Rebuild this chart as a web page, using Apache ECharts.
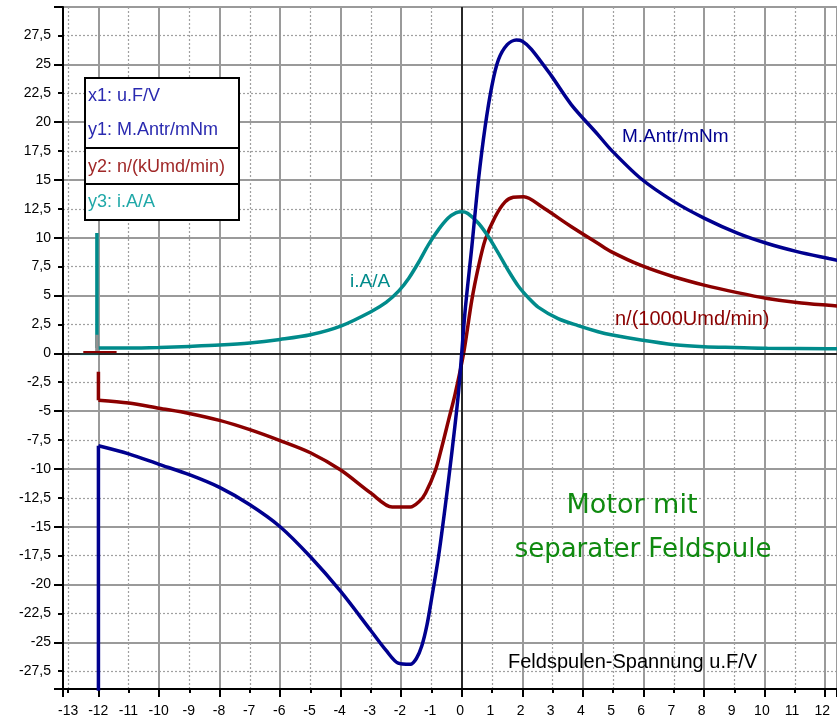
<!DOCTYPE html>
<html><head><meta charset="utf-8">
<script src="https://cdn.jsdelivr.net/npm/echarts@6/dist/echarts.min.js"></script>
<style>html,body{margin:0;padding:0;background:#fff}#c{width:837px;height:721px}</style>
</head><body><div id="c"></div>
<script>
// ---- tick labels ----
const xTickValues = [-13,-12,-11,-10,-9,-8,-7,-6,-5,-4,-3,-2,-1,0,1,2,3,4,5,6,7,8,9,10,11,12];
const yTickValues = [-27.5,-25,-22.5,-20,-17.5,-15,-12.5,-10,-7.5,-5,-2.5,0,2.5,5,7.5,10,12.5,15,17.5,20,22.5,25,27.5];

// ---- series: M.Antr/mNm (torque) ----
const torqueStart = [[-12,-40],[-12,-8.0]];
const torque = [[-12,-8.0],[-11,-8.7],[-10,-9.6],[-9,-10.5],[-8,-11.6],[-7,-13.1],[-6,-15.0],[-5,-17.6],[-4,-20.6],[-3,-24.0],[-2.5,-25.7],[-2.1,-26.8],[-1.7,-26.9],[-1.5,-26.4],[-1.32,-25.3],[-1.15,-23.5],[-0.99,-21.1],[-0.77,-17.6],[-0.55,-13.3],[-0.33,-8.6],[-0.11,-3.4],[0.11,3.7],[0.33,9.2],[0.55,15.0],[0.77,19.6],[0.99,23.1],[1.21,25.4],[1.5,26.7],[1.8,27.1],[2.0,27.0],[2.3,26.3],[2.96,24.0],[3.62,21.5],[4.5,18.9],[4.93,17.6],[5.92,15.1],[7.02,13.1],[8.0,11.7],[9.1,10.4],[10.09,9.5],[11.07,8.8],[12.12,8.2],[12.4,8.05]];

// ---- series: n/(kUmd/min) (speed) ----
const speedStart = [[-12,-1.6],[-12,-4.05]];
const speed = [[-12,-4.05],[-11,-4.3],[-10,-4.75],[-9,-5.2],[-8,-5.8],[-7,-6.6],[-6,-7.55],[-5,-8.6],[-4,-10.1],[-3,-12.1],[-2.3,-13.3],[-1.7,-13.3],[-1.4,-12.8],[-1.2,-12.1],[-0.87,-10.1],[-0.66,-8.1],[-0.44,-5.8],[-0.22,-3.5],[0.06,0.0],[0.33,4.6],[0.55,7.5],[0.77,9.8],[1.1,11.8],[1.43,13.1],[1.7,13.5],[2.05,13.55],[2.63,12.7],[3.62,10.95],[4.5,9.5],[4.93,8.8],[5.92,7.6],[7.02,6.6],[8.0,5.9],[9.1,5.25],[10.09,4.75],[11.07,4.4],[12.12,4.15],[12.4,4.1]];

// ---- series: i.A/A (current) ----
const currentStart = [[-12.05,10.4],[-12.05,0.45]];
const current = [[-12.05,0.45],[-11,0.45],[-10,0.5],[-9,0.6],[-8,0.72],[-7,0.9],[-6,1.2],[-5,1.6],[-4,2.35],[-3,3.6],[-2.5,4.4],[-2.08,5.4],[-1.75,6.5],[-1.42,7.9],[-1.1,9.4],[-0.77,10.7],[-0.45,11.7],[-0.2,12.15],[0,12.25],[0.2,12.1],[0.55,11.25],[0.9,10.0],[1.21,8.65],[1.55,7.1],[1.87,5.8],[2.2,4.8],[2.52,4.0],[3.18,3.0],[3.84,2.4],[4.5,1.87],[4.93,1.6],[5.92,1.15],[7.02,0.75],[8.0,0.57],[9.0,0.5],[10.09,0.43],[12.12,0.4],[12.4,0.4]];

// ---- small start artefacts near (-12, 0) ----
const speedStub = [[-12.5,0.12],[-11.4,0.12]];
const currentStub = [[-12.6,-0.08],[-12.0,-0.08]];
const markerStub = [[-12.05,0.2],[-12.05,1.6]];

const X_MIN = -13.17, X_MAX = 12.39, Y_MIN = -29.04, Y_MAX = 29.96;
const C_BLUE = '#00008f', C_RED = '#8b0000', C_TEAL = '#008b8b';
const LBL_FONT = '"Liberation Sans",Arial,sans-serif';

function xfmt(v){ const t = xTickValues.find(a => Math.abs(a - v) < 1e-6); return t === undefined ? '' : String(t); }
function yfmt(v){ const t = yTickValues.find(a => Math.abs(a - v) < 1e-6); return t === undefined ? '' : String(t).replace('.', ','); }

function lineSeries(name, data, color, width, z, smooth){
  return {type:'line', name, xAxisIndex:0, yAxisIndex:0, data, symbol:'none',
          smooth: smooth ? 0.3 : false,
          lineStyle:{color, width}, z};
}

const gridBox = {left:63, right:-3, top:7, bottom:32};
const chart = echarts.init(document.getElementById('c'), null, {renderer:'canvas'});
const speedSeries = lineSeries('n/(kUmd/min)', speed, C_RED, 3.5, 4, true);
speedSeries.markLine = {silent:true, symbol:['none','none'], label:{show:false},
  lineStyle:{color:'#000', width:1.5, type:'solid'}, data:[{xAxis:0},{yAxis:0}]};
chart.setOption({
  animation:false,
  backgroundColor:'#fff',
  grid:[
    Object.assign({show:true, borderColor:'#000', borderWidth:2, backgroundColor:'#fff'}, gridBox),
    Object.assign({show:false}, gridBox)
  ],
  xAxis:[
    {type:'value', gridIndex:0, min:X_MIN, max:X_MAX, minInterval:2, maxInterval:2,
     axisLine:{show:true, onZero:false, lineStyle:{color:'#000', width:2}},
     axisTick:{show:true, length:8, lineStyle:{color:'#000', width:2}},
     minorTick:{show:true, splitNumber:2, length:4, lineStyle:{color:'#000', width:2}},
     axisLabel:{show:false},
     splitLine:{show:true, lineStyle:{color:'#9a9a9a', width:2}},
     minorSplitLine:{show:true, lineStyle:{color:'#a0a0a0', width:1.2, type:[2,2]}}},
    {type:'value', gridIndex:1, min:X_MIN, max:X_MAX, minInterval:1, maxInterval:1,
     axisLine:{show:false}, axisTick:{show:false}, splitLine:{show:false},
     axisLabel:{show:true, margin:15, fontSize:14, fontFamily:LBL_FONT, color:'#000', formatter:xfmt}}
  ],
  yAxis:[
    {type:'value', gridIndex:0, min:Y_MIN, max:Y_MAX, minInterval:5, maxInterval:5,
     axisLine:{show:true, onZero:false, lineStyle:{color:'#000', width:2}},
     axisTick:{show:true, length:9, lineStyle:{color:'#000', width:2}},
     minorTick:{show:true, splitNumber:2, length:5, lineStyle:{color:'#000', width:2}},
     axisLabel:{show:false},
     splitLine:{show:true, lineStyle:{color:'#9a9a9a', width:2}},
     minorSplitLine:{show:true, lineStyle:{color:'#a0a0a0', width:1.2, type:[2,2]}}},
    {type:'value', gridIndex:1, min:Y_MIN, max:Y_MAX, minInterval:2.5, maxInterval:2.5,
     axisLine:{show:false}, axisTick:{show:false}, splitLine:{show:false},
     axisLabel:{show:true, margin:12, fontSize:14, fontFamily:LBL_FONT, color:'#000', formatter:yfmt}}
  ],
  series:[
    lineSeries('speedStub', speedStub, C_RED, 2, 3, false),
    lineSeries('currentStub', currentStub, '#7fffff', 2, 3, false),
    speedSeries,
    lineSeries('speedStart', speedStart, C_RED, 3.5, 4, false),
    lineSeries('i.A/A', current, C_TEAL, 3.5, 5, true),
    lineSeries('currentStart', currentStart, C_TEAL, 3.5, 5, false),
    lineSeries('markerStub', markerStub, '#909090', 3.5, 6, false),
    lineSeries('M.Antr/mNm', torque, C_BLUE, 3.5, 5, true),
    lineSeries('torqueStart', torqueStart, C_BLUE, 3.5, 5, false)
  ],
  graphic:{elements:[
    {type:'rect', z:100, shape:{x:85, y:78, width:154, height:142}, style:{fill:'#fff', stroke:'#000', lineWidth:2}},
    {type:'line', z:101, shape:{x1:85, y1:148, x2:239, y2:148}, style:{stroke:'#000', lineWidth:2}},
    {type:'line', z:101, shape:{x1:85, y1:184, x2:239, y2:184}, style:{stroke:'#000', lineWidth:2}},
    {type:'text', z:102, style:{x:88, y:96, text:'x1: u.F/V', fill:'#2a2ab0', font:'18px "Liberation Sans",Arial,sans-serif', textVerticalAlign:'middle'}},
    {type:'text', z:102, style:{x:88, y:130, text:'y1: M.Antr/mNm', fill:'#2a2ab0', font:'18px "Liberation Sans",Arial,sans-serif', textVerticalAlign:'middle'}},
    {type:'text', z:102, style:{x:88, y:167, text:'y2: n/(kUmd/min)', fill:'#a02828', font:'18px "Liberation Sans",Arial,sans-serif', textVerticalAlign:'middle'}},
    {type:'text', z:102, style:{x:88, y:202, text:'y3: i.A/A', fill:'#20a8a8', font:'18px "Liberation Sans",Arial,sans-serif', textVerticalAlign:'middle'}},
    {type:'text', z:50, style:{x:622, y:137, text:'M.Antr/mNm', fill:C_BLUE, font:'19px "Liberation Sans",Arial,sans-serif', textVerticalAlign:'middle'}},
    {type:'text', z:50, style:{x:615, y:319, text:'n/(1000Umd/min)', fill:C_RED, font:'20px "Liberation Sans",Arial,sans-serif', textVerticalAlign:'middle'}},
    {type:'text', z:50, style:{x:350, y:282, text:'i.A/A', fill:C_TEAL, font:'19px "Liberation Sans",Arial,sans-serif', textVerticalAlign:'middle'}},
    {type:'text', z:50, style:{x:508, y:662, text:'Feldspulen-Spannung u.F/V', fill:'#000', font:'20px "Liberation Sans",Arial,sans-serif', textVerticalAlign:'middle'}},
    {type:'text', z:50, style:{x:632, y:506, text:'Motor mit', fill:'#108a10', font:'27px "DejaVu Sans",sans-serif', textAlign:'center', textVerticalAlign:'middle'}},
    {type:'text', z:50, style:{x:643, y:550, text:'separater Feldspule', fill:'#108a10', font:'26px "DejaVu Sans",sans-serif', textAlign:'center', textVerticalAlign:'middle'}}
  ]}
});
</script>
</body></html>
